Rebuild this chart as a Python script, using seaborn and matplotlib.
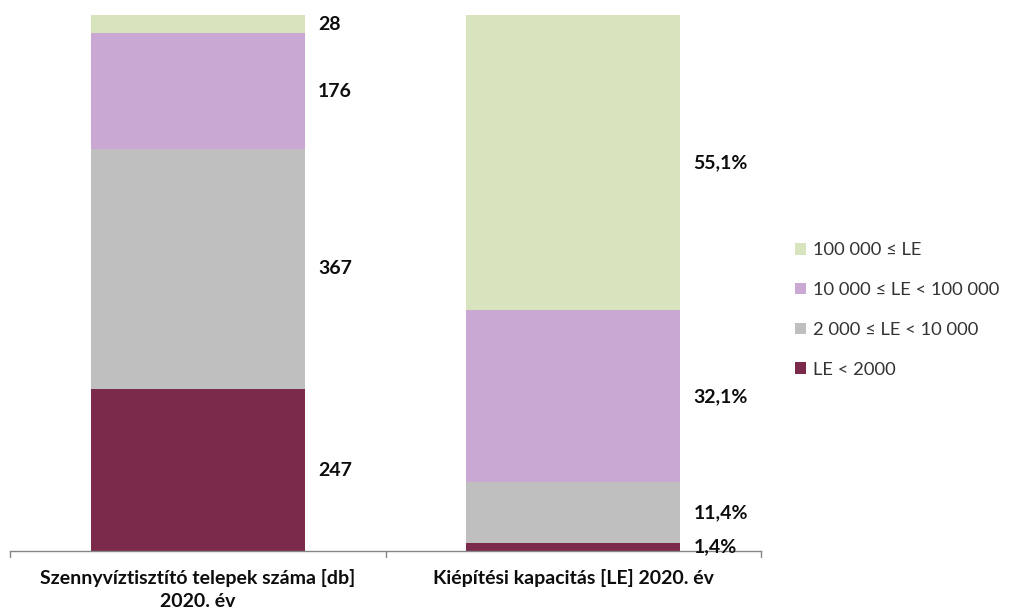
import numpy as np
import pandas as pd
import matplotlib
matplotlib.use("Agg")
import matplotlib.pyplot as plt
import seaborn as sns
from matplotlib.patches import Patch

categories = ["Szennyvíztisztító telepek száma [db]\n2020. év", "Kiépítési kapacitás [LE] 2020. év"]
groups = ["LE < 2000", "2 000 ≤ LE < 10 000", "10 000 ≤ LE < 100 000", "100 000 ≤ LE"]
plant_counts = [247, 367, 176, 28]
capacity_pct = [1.4, 11.4, 32.1, 55.1]
colors = ["#7B2A4B", "#BFBFBF", "#C9A9D3", "#D7E4BD"]

sns.set_style("white")
plt.rcParams['font.family'] = ['Lato', 'DejaVu Sans']

counts = np.array(plant_counts, dtype=float)
caps = np.array(capacity_pct, dtype=float)
shares = np.vstack([counts / counts.sum(), caps / caps.sum()])  # rows = categories
cum = np.cumsum(shares, axis=1)

fig = plt.figure(figsize=(10.09, 6.15), dpi=100)
ax = fig.add_axes([10 / 1009, 1 - 551 / 615, 751 / 1009, 536 / 615])

# draw cumulative bars from the top group down so each covers the one above
for j in range(len(groups) - 1, -1, -1):
    df = pd.DataFrame({"cat": categories, "val": cum[:, j]})
    sns.barplot(data=df, x="cat", y="val", color=colors[j], width=0.57,
                saturation=1, ax=ax, linewidth=0)

ax.set_ylim(0, 1)
ax.set_xlim(-0.5, 1.5)
ax.set_ylabel("")
ax.set_xlabel("")
ax.set_yticks([])
for s in ["top", "right", "left"]:
    ax.spines[s].set_visible(False)
ax.spines["bottom"].set_color("#868686")
ax.spines["bottom"].set_linewidth(1)
ax.set_xticks([0, 1])
ax.set_xticklabels(categories, fontsize=14, fontweight="bold", color="#0d0d0d",
                   linespacing=1.45)
ax.tick_params(axis="x", length=0, pad=13)
for xb in [-0.5, 0.5, 1.5]:
    ax.plot([xb, xb], [0, -0.012], color="#868686", lw=1, clip_on=False)

labels = [[str(v) for v in plant_counts],
          [f"{v:.1f}%".replace(".", ",") for v in capacity_pct]]
for i in range(2):
    bottoms = np.concatenate([[0], cum[i, :-1]])
    for j in range(len(groups)):
        y = bottoms[j] + shares[i, j] / 2
        ax.text(i + 0.285 + 0.035, y, labels[i][j], ha="left", va="center",
                fontsize=14, fontweight="bold", color="#0d0d0d")

handles = [Patch(facecolor=colors[j], edgecolor="none") for j in range(len(groups) - 1, -1, -1)]
leg = fig.legend(handles, groups[::-1], loc="center left", bbox_to_anchor=(778 / 1009, 1 - 310 / 615),
                 frameon=False, fontsize=13.2, handlelength=0.6, handleheight=0.6,
                 handletextpad=0.4, labelspacing=1.3, labelcolor="#333333")

fig.savefig("out.png", dpi=100)
